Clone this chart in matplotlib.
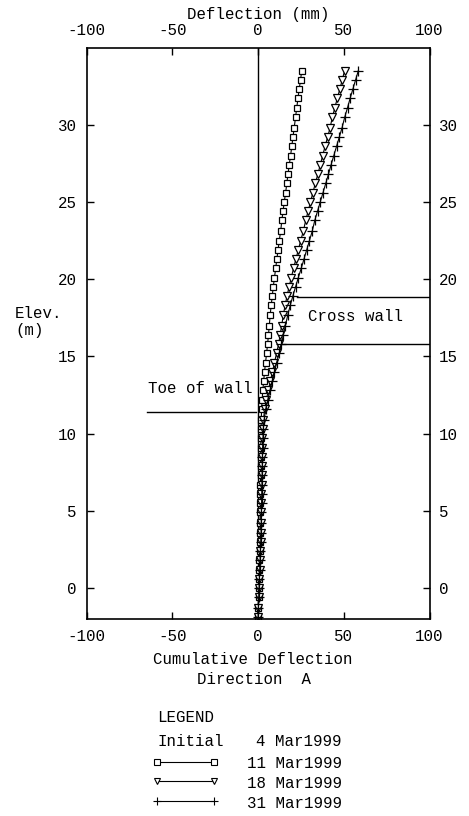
import numpy as np
import matplotlib.pyplot as plt
from matplotlib.lines import Line2D

plt.rcParams['font.family'] = ['Liberation Mono', 'DejaVu Sans Mono']
plt.rcParams['font.size'] = 11.3
plt.rcParams['axes.unicode_minus'] = False

# ==========================================
# data
# ==========================================
elev = [33.5, 32.9, 32.3, 31.7, 31.1, 30.5, 29.8, 29.2, 28.6, 28.0,
        27.4, 26.8, 26.2, 25.6, 25.0, 24.4, 23.8, 23.1, 22.5, 21.9,
        21.3, 20.7, 20.1, 19.5, 18.9, 18.3, 17.7, 17.0, 16.4, 15.8,
        15.2, 14.6, 14.0, 13.4, 12.8, 12.2, 11.6, 10.9, 10.3, 9.7,
        9.1, 8.5, 7.9, 7.3, 6.7, 6.1, 5.5, 4.9, 4.2, 3.6,
        3.0, 2.4, 1.8, 1.2, 0.6, 0.0, -0.6, -1.3, -1.9]

defl_11mar = [25.5, 24.8, 24.0, 23.3, 22.6, 21.9, 21.1, 20.4, 19.7, 19.0,
              18.2, 17.5, 16.8, 16.1, 15.3, 14.6, 13.9, 13.2, 12.4, 11.7,
              11.0, 10.3, 9.6, 8.9, 8.3, 7.7, 7.1, 6.6, 6.1, 5.6,
              5.0, 4.4, 3.8, 3.3, 2.8, 2.4, 2.1, 1.9, 1.8, 1.7,
              1.6, 1.6, 1.5, 1.5, 1.4, 1.4, 1.3, 1.3, 1.2, 1.1,
              1.0, 0.9, 0.8, 0.7, 0.5, 0.4, 0.3, 0.1, 0.0]

defl_18mar = [50.5, 49.1, 47.7, 46.2, 44.8, 43.4, 42.0, 40.6, 39.1, 37.7,
              36.3, 34.9, 33.4, 32.0, 30.6, 29.2, 27.8, 26.4, 24.9, 23.5,
              22.1, 20.7, 19.4, 18.1, 16.9, 15.8, 14.8, 13.8, 12.9, 12.0,
              10.8, 9.6, 8.4, 7.2, 6.0, 4.9, 3.9, 3.2, 2.8, 2.6,
              2.5, 2.4, 2.3, 2.2, 2.1, 2.0, 1.9, 1.8, 1.7, 1.6,
              1.5, 1.3, 1.1, 0.9, 0.7, 0.5, 0.3, 0.2, 0.0]

defl_31mar = [58.5, 56.9, 55.3, 53.7, 52.2, 50.6, 49.0, 47.4, 45.8, 44.2,
              42.6, 41.1, 39.5, 37.9, 36.3, 34.7, 33.1, 31.6, 30.0, 28.4,
              26.8, 25.2, 23.5, 21.9, 20.3, 18.8, 17.4, 16.0, 14.8, 13.7,
              12.3, 10.9, 9.6, 8.3, 7.0, 5.7, 4.5, 3.6, 3.1, 2.9,
              2.7, 2.6, 2.5, 2.4, 2.3, 2.2, 2.1, 2.0, 1.9, 1.8,
              1.6, 1.4, 1.2, 1.0, 0.8, 0.6, 0.4, 0.2, 0.0]

series = [
    ('11 Mar1999', defl_11mar, 's', 4.6),
    ('18 Mar1999', defl_18mar, 'v', 5.4),
    ('31 Mar1999', defl_31mar, '+', 7.5),
]

# annotation lines (elevation, x start, x end)
toe_elev, toe_x = 11.4, [-64.5, -1.0]
cross_upper, cross_upper_x = 18.85, [22.5, 100]
cross_lower, cross_lower_x = 15.8, [14.0, 100]

W, H = 469, 816
fig = plt.figure(figsize=(W / 100, H / 100), dpi=100)
ax = fig.add_axes([86.5 / W, 1 - 619 / H, (429.5 - 86.5) / W, (619 - 47.5) / H])

ax.axvline(0, color='black', lw=1.0)
for name, d, mk, ms in series:
    ax.plot(d, elev, color='black', lw=0.8, marker=mk, ms=ms,
            mfc='white' if mk != '+' else 'black', mec='black', mew=0.9)

ax.plot(toe_x, [toe_elev, toe_elev], color='black', lw=1.0)
ax.plot(cross_upper_x, [cross_upper, cross_upper], color='black', lw=1.0)
ax.plot(cross_lower_x, [cross_lower, cross_lower], color='black', lw=1.0)
ax.text(-33.5, 12.9, 'Toe of wall', ha='center', va='center')
ax.text(29, 17.6, 'Cross wall', ha='left', va='center')

ax.set_xlim(-100, 100)
ax.set_ylim(-2.0, 35.0)
ax.set_xticks([-100, -50, 0, 50, 100])
ax.set_yticks([0, 5, 10, 15, 20, 25, 30])
ax.tick_params(direction='in', length=5, width=1.0, top=True, right=True,
               labeltop=True, labelright=True, pad=7)
for s in ax.spines.values():
    s.set_linewidth(1.2)

fig.text(258 / W, 1 - 15 / H, 'Deflection (mm)', ha='center', va='center')
fig.text(253 / W, 1 - 659 / H, 'Cumulative Deflection', ha='center', va='center')
fig.text(254 / W, 1 - 680 / H, 'Direction  A', ha='center', va='center')
fig.text(38 / W, 1 - 314 / H, 'Elev.', ha='center', va='center')
fig.text(30 / W, 1 - 331 / H, '(m)', ha='center', va='center')

# legend block drawn by hand below the plot
fig.text(157 / W, 1 - 718 / H, 'LEGEND', ha='left', va='center')
fig.text(157 / W, 1 - 741 / H, 'Initial', ha='left', va='center')
fig.text(342 / W, 1 - 742 / H, '4 Mar1999', ha='right', va='center')
leg_y = [762, 781, 801]
for (name, d, mk, ms), yy in zip(series, leg_y):
    ln = Line2D([157 / W, 214 / W], [1 - yy / H, 1 - yy / H], transform=fig.transFigure,
                color='black', lw=0.8, marker=mk, ms=ms * 0.85,
                mfc='white' if mk != '+' else 'black', mec='black', mew=0.8)
    fig.add_artist(ln)
    fig.text(342 / W, 1 - (yy + 2) / H, name, ha='right', va='center')

plt.savefig('out.png', dpi=100)
